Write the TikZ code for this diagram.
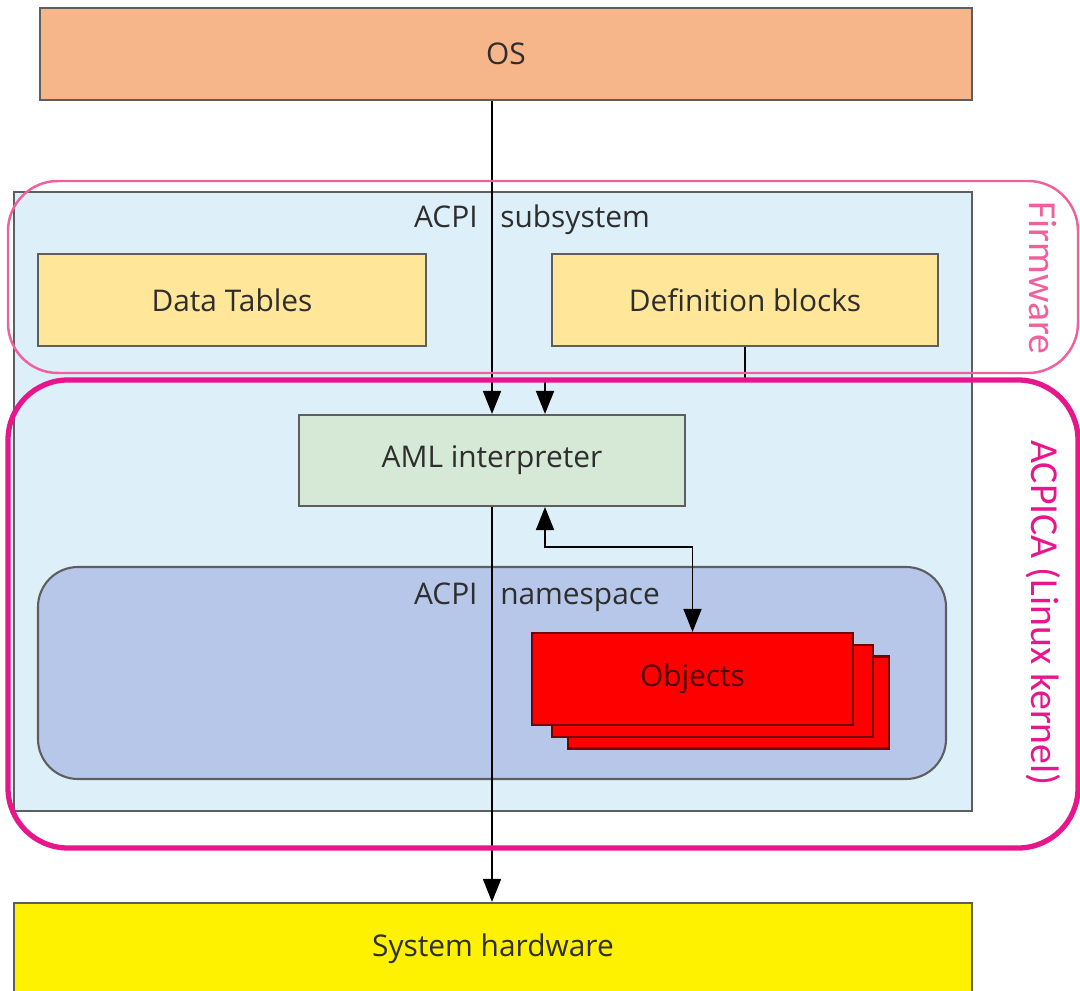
\documentclass[tikz,border=0pt]{standalone}
\usepackage{fontspec}
\setmainfont{Open Sans}
\newfontfamily\sidefont{Carlito}
\usetikzlibrary{arrows.meta}
\definecolor{osfill}{HTML}{F7B58A}
\definecolor{subfill}{HTML}{DDEFF9}
\definecolor{tabfill}{HTML}{FFE699}
\definecolor{amlfill}{HTML}{D6E9D6}
\definecolor{nsfill}{HTML}{B7C7EA}
\definecolor{objline}{HTML}{7A0000}
\definecolor{objtext}{HTML}{500000}
\definecolor{boxline}{HTML}{5E5E5E}
\definecolor{labeltext}{HTML}{2E2E2E}
\definecolor{fwpink}{HTML}{F0609C}
\definecolor{kpink}{HTML}{E8168C}
\begin{document}
\begin{tikzpicture}[
    font=\fontsize{8.5}{10}\selectfont, text=labeltext,
    box/.style={draw=boxline, line width=0.6pt, inner sep=0pt},
    frame/.style={rounded corners=0.5cm, inner sep=0pt, minimum width=10.70cm},
    side/.style={font=\sidefont\fontsize{11.3}{13}\selectfont, rotate=-90},
    arr/.style={-{Triangle[length=2.3mm,width=1.8mm]}, line width=0.5pt},
    arrboth/.style={{Triangle[length=2.3mm,width=1.8mm]}-{Triangle[length=2.3mm,width=1.8mm]}, line width=0.5pt}
  ]
  \useasboundingbox (0,0) rectangle (10.8,9.9);

  \node[box, fill=osfill, minimum width=9.32cm, minimum height=0.92cm] (os) at (5.06,9.36) {OS};

  \node[box, fill=subfill, minimum width=9.58cm, minimum height=6.19cm] (sub) at (4.93,4.885) {};
  \node (sublabel) at (5.32,7.70) {ACPI\hspace{0.5em} subsystem};

  \node[box, fill=tabfill, minimum width=3.88cm, minimum height=0.92cm] (tables) at (2.32,6.90) {Data Tables};
  \node[box, fill=tabfill, minimum width=3.86cm, minimum height=0.92cm] (defblocks) at (7.45,6.90) {Definition blocks};

  \node[box, fill=amlfill, minimum width=3.86cm, minimum height=0.91cm] (aml) at (4.92,5.295) {AML interpreter};

  \node[box, fill=nsfill, rounded corners=0.4cm, minimum width=9.08cm, minimum height=2.12cm] (ns) at (4.92,3.17) {};
  \node (nslabel) at (5.37,3.93) {ACPI\hspace{0.5em} namespace};

  \node[draw=objline, fill=red, line width=0.6pt, minimum width=3.21cm, minimum height=0.92cm] (obj3) at (7.285,2.875) {};
  \node[draw=objline, fill=red, line width=0.6pt, minimum width=3.21cm, minimum height=0.92cm] (obj2) at (7.125,2.99) {};
  \node[draw=objline, fill=red, line width=0.6pt, minimum width=3.21cm, minimum height=0.92cm, text=objtext] (obj) at (6.925,3.11) {Objects};

  \node[box, fill=yellow, minimum width=9.58cm, minimum height=0.92cm] (hw) at (4.93,0.41) {System hardware};

  \coordinate (defbend) at (7.45,6.09);
  \coordinate (nsbend) at (6.925,4.43);
  \draw[arr] (os.south -| aml) -- (aml);
  \draw[arr] (defblocks.south) -- (defbend) -| ([xshift=0.53cm]aml.north);
  \draw[arr] (aml.south) -- (hw.north -| aml);
  \draw[arrboth] ([xshift=0.53cm]aml.south) |- (nsbend) -- (obj.north);

  \node[frame, draw=fwpink, line width=0.7pt, minimum height=1.92cm] (firmware) at (5.43,7.13) {};
  \node[frame, draw=kpink, line width=1.5pt, rounded corners=0.6cm, minimum height=4.68cm] (acpica) at (5.43,3.76) {};
  \node[side, text=fwpink] (fwlabel) at (10.43,7.12) {Firmware};
  \node[side, text=kpink] (acpicalabel) at (10.43,3.77) {ACPICA (Linux kernel)};
\end{tikzpicture}
\end{document}
